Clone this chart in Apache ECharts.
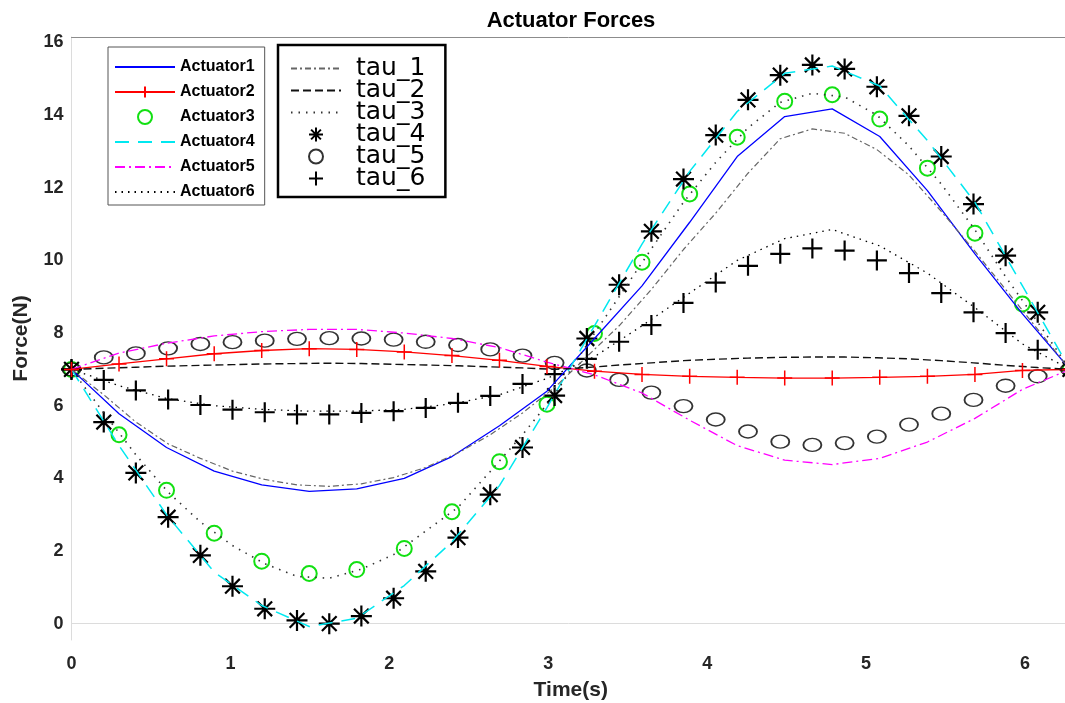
<!DOCTYPE html>
<html><head><meta charset="utf-8">
<script src="https://cdn.jsdelivr.net/npm/echarts@6/dist/echarts.min.js"></script>
<style>html,body{margin:0;padding:0;background:#fff}#c{width:1065px;height:703px}</style>
</head><body><div id="c"></div>
<script>
// time samples (s)
const actTime = [0,0.299,0.598,0.898,1.197,1.496,1.795,2.094,2.394,2.693,2.992,3.291,3.590,3.890,4.189,4.488,4.787,5.086,5.386,5.685,5.984,6.283];
const tauTime = [0,0.203,0.405,0.608,0.811,1.013,1.216,1.419,1.622,1.824,2.027,2.229,2.432,2.635,2.838,3.040,3.243,3.446,3.649,3.851,4.054,4.257,4.460,4.662,4.865,5.068,5.270,5.473,5.676,5.878,6.080,6.283];

// Actuator forces (N)
const actuator1 = [7.0,5.78,4.85,4.2,3.82,3.64,3.71,4.0,4.6,5.45,6.4,7.85,9.3,11.05,12.86,13.96,14.17,13.41,11.92,10.18,8.53,7.0];
const actuator2 = [7.0,7.15,7.29,7.43,7.52,7.57,7.55,7.48,7.38,7.25,7.08,6.95,6.86,6.81,6.78,6.76,6.76,6.78,6.81,6.86,6.97,7.0];
const actuator3 = [7.0,5.2,3.67,2.49,1.72,1.38,1.49,2.07,3.08,4.46,6.04,7.99,9.95,11.83,13.39,14.38,14.56,13.89,12.54,10.75,8.8,7.0];
const actuator4 = [7.0,4.9,3.0,1.42,0.5,-0.08,0.15,1.05,2.25,3.8,5.95,8.2,10.45,12.45,14.1,15.15,15.35,14.8,13.3,11.6,9.3,7.0];
const actuator5 = [7.0,7.45,7.72,7.92,8.04,8.1,8.1,8.0,7.85,7.6,7.2,6.85,6.35,5.6,4.9,4.5,4.38,4.55,5.0,5.65,6.45,7.0];
const actuator6 = [7.0,6.55,6.2,6.0,5.9,5.85,5.85,5.9,6.05,6.3,6.75,7.35,8.2,9.1,10.0,10.6,10.85,10.4,9.65,8.7,7.7,7.0];

// tau (N)
const tau1 = [7.0,6.3,5.55,4.95,4.55,4.2,3.97,3.82,3.78,3.85,4.02,4.3,4.7,5.2,5.8,6.5,7.35,8.2,9.2,10.3,11.3,12.4,13.35,13.62,13.5,13.05,12.35,11.35,10.3,9.2,8.1,7.0];
const tau2 = [7.0,7.03,7.06,7.09,7.11,7.13,7.15,7.16,7.17,7.16,7.14,7.12,7.1,7.07,7.04,7.0,7.05,7.12,7.18,7.24,7.28,7.31,7.33,7.34,7.34,7.32,7.29,7.24,7.18,7.11,7.05,7.0];
const tau3 = [7.0,5.8,4.65,3.62,2.8,2.15,1.65,1.3,1.25,1.5,1.9,2.55,3.2,4.19,5.2,6.3,7.68,9.0,10.32,11.6,12.7,13.65,14.35,14.6,14.5,14.0,13.15,12.1,10.9,9.55,8.3,7.0];
const tau4 = [7.0,5.55,4.15,2.93,1.88,1.03,0.41,0.09,0.0,0.21,0.7,1.44,2.37,3.55,4.85,6.28,7.85,9.33,10.8,12.24,13.45,14.42,15.1,15.38,15.27,14.78,13.98,12.86,11.55,10.13,8.57,7.0];
const tau5 = [7.0,7.33,7.44,7.58,7.7,7.75,7.79,7.84,7.86,7.85,7.82,7.76,7.67,7.55,7.38,7.18,6.97,6.71,6.36,5.99,5.62,5.29,5.01,4.92,4.97,5.15,5.48,5.78,6.16,6.55,6.81,7.0];
const tau6 = [7.0,6.71,6.42,6.17,6.02,5.89,5.82,5.76,5.76,5.8,5.85,5.94,6.08,6.27,6.6,6.87,7.29,7.76,8.22,8.83,9.39,9.85,10.18,10.33,10.27,10.0,9.65,9.1,8.57,8.0,7.54,7.0];

const xTicks = [0,1,2,3,4,5,6];
const yTicks = [0,2,4,6,8,10,12,14,16];

function pairs(t, v) { return t.map((x, i) => [x, v[i]]); }

const PLUS = 'path://M10 0L10 20M0 10L20 10';
const STAR = 'path://M10 0L10 20M0 10L20 10M3 3L17 17M17 3L3 17';
const NOFILL = 'rgba(0,0,0,0)';
const FONT = '"Liberation Sans", Arial, sans-serif';

function lineS(name, t, v, color, width, type, extra) {
  return Object.assign({
    name, type: 'line', data: pairs(t, v), symbol: 'none', silent: true,
    lineStyle: { color, width, type }, itemStyle: { color }
  }, extra || {});
}
function markS(name, t, v, symbol, size, color, bw) {
  return {
    name, type: 'scatter', data: pairs(t, v), symbol, symbolSize: size, symbolKeepAspect: true, silent: true,
    itemStyle: { color: NOFILL, borderColor: color, borderWidth: bw, opacity: 1 }
  };
}
// legend entries for plain lines: hide the legend's default symbol
function lineOnly(name) { return { name, itemStyle: { opacity: 0 } }; }

const chart = echarts.init(document.getElementById('c'), null, { renderer: 'canvas' });
chart.setOption({
  animation: false,
  backgroundColor: '#fff',
  title: {
    text: 'Actuator Forces', left: 571, top: 10, textAlign: 'center', padding: 0,
    textStyle: { fontFamily: FONT, fontWeight: 'bold', fontSize: 22, color: '#000' }
  },
  grid: { left: 71.5, right: -5, top: 37, bottom: 63, containLabel: false, outerBoundsMode: 'none' },
  legend: [
    {
      data: [lineOnly('Actuator1'), 'Actuator2', 'Actuator3', lineOnly('Actuator4'), lineOnly('Actuator5'), lineOnly('Actuator6')],
      orient: 'vertical', left: 108, top: 47, selectedMode: false,
      itemWidth: 60, itemHeight: 14, itemGap: 9,
      padding: [12, 10, 5, 6],
      backgroundColor: '#fff', borderColor: '#555', borderWidth: 1,
      textStyle: { fontFamily: FONT, fontWeight: 'bold', fontSize: 16, lineHeight: 16, color: '#000' }
    },
    {
      data: [lineOnly('tau_1'), lineOnly('tau_2'), lineOnly('tau_3'), 'tau_4', 'tau_5', 'tau_6'],
      orient: 'vertical', left: 278, top: 45, selectedMode: false,
      itemWidth: 50, itemHeight: 14, itemGap: -3,
      padding: [11, 20, 6, 12],
      backgroundColor: '#fff', borderColor: '#000', borderWidth: 2.5,
      textStyle: { fontFamily: '"DejaVu Sans", sans-serif', fontSize: 25, lineHeight: 20, color: '#000', padding: [0, 0, 0, 10] }
    }
  ],
  xAxis: [
    {
      type: 'value', min: 0, max: 6.2832, position: 'bottom',
      name: 'Time(s)', nameLocation: 'middle', nameGap: 40,
      nameTextStyle: { fontFamily: FONT, fontWeight: 'bold', fontSize: 21, color: '#262626' },
      axisLine: { show: true, lineStyle: { color: '#dcdcdc', width: 1 } },
      axisTick: { show: false, customValues: xTicks },
      splitLine: { show: false },
      axisLabel: { customValues: xTicks, margin: 15, fontFamily: FONT, fontWeight: 'bold', fontSize: 18, color: '#262626' }
    },
    {
      type: 'value', min: 0, max: 6.2832, position: 'top',
      axisLine: { show: true, lineStyle: { color: '#8c8c8c', width: 1 } },
      axisTick: { show: false }, axisLabel: { show: false }, splitLine: { show: false }
    }
  ],
  yAxis: {
    type: 'value', min: -0.45, max: 16.15,
    name: 'Force(N)', nameLocation: 'middle', nameGap: 40,
    nameTextStyle: { fontFamily: FONT, fontWeight: 'bold', fontSize: 21, color: '#262626' },
    axisLine: { show: true, lineStyle: { color: '#dcdcdc', width: 1 } },
    axisTick: { show: false, customValues: yTicks },
    splitLine: { show: false },
    axisLabel: { customValues: yTicks, margin: 8, fontFamily: FONT, fontWeight: 'bold', fontSize: 18, color: '#262626' }
  },
  series: [
    lineS('Actuator1', actTime, actuator1, '#0000ff', 1.3, 'solid'),
    lineS('Actuator2', actTime, actuator2, '#ff0000', 1.3, 'solid', {
      symbol: PLUS, symbolSize: 15, symbolKeepAspect: true, showSymbol: true,
      itemStyle: { color: NOFILL, borderColor: '#ff0000', borderWidth: 1.5 }
    }),
    markS('Actuator3', actTime, actuator3, 'circle', 15, '#12e012', 2),
    lineS('Actuator4', actTime, actuator4, '#00e8f0', 1.5, [14, 9]),
    lineS('Actuator5', actTime, actuator5, '#ff00ff', 1.3, [10, 4, 2, 4]),
    lineS('Actuator6', actTime, actuator6, '#000000', 1.3, [1.5, 5]),
    lineS('tau_1', tauTime, tau1, '#666666', 1.2, [6, 3, 2, 3]),
    lineS('tau_2', tauTime, tau2, '#111111', 1.4, [8, 4]),
    lineS('tau_3', tauTime, tau3, '#333333', 1.6, [1.5, 6]),
    markS('tau_4', tauTime, tau4, STAR, 21, '#000000', 2.2),
    {
      name: 'tau_5', type: 'scatter', data: pairs(tauTime, tau5), symbol: 'circle', symbolSize: [18, 13], silent: true,
      itemStyle: { color: NOFILL, borderColor: '#000000', borderWidth: 1.6 }
    },
    markS('tau_6', tauTime, tau6, PLUS, 20, '#000000', 2.2)
  ]
});
</script></body></html>
